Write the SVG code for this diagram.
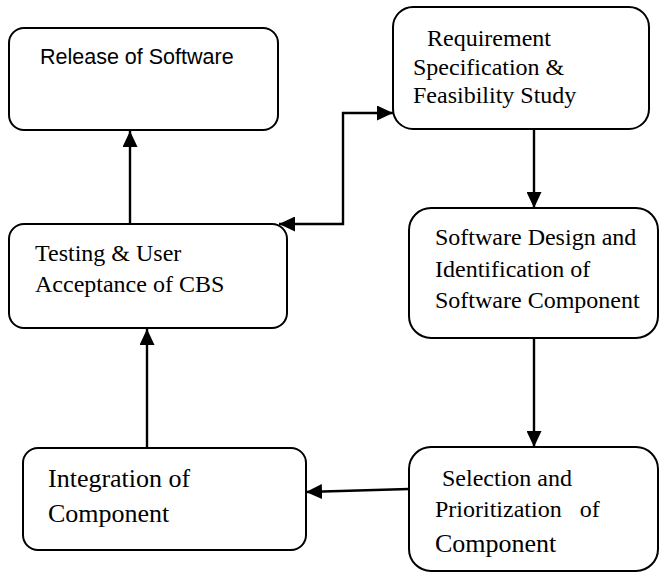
<svg xmlns="http://www.w3.org/2000/svg" width="661" height="573" viewBox="0 0 661 573">
<style>
.box{fill:#fff;stroke:#000;stroke-width:2}
.serif{font-family:"Liberation Serif","Times New Roman",serif;font-size:24px;fill:#000;white-space:pre}
.big{font-size:26px}
.sans{font-family:"Liberation Sans",Arial,sans-serif;font-size:21.5px;fill:#000}
.edge{fill:none;stroke:#000;stroke-width:2.4}
</style>
<defs>
<marker id="ah" markerUnits="userSpaceOnUse" markerWidth="17" markerHeight="15" refX="16" refY="7.5" orient="auto" viewBox="0 0 17 15">
<path d="M0,0 L16,7.5 L0,15 z" fill="#000"/>
</marker>
<marker id="ahs" markerUnits="userSpaceOnUse" markerWidth="17" markerHeight="15" refX="1" refY="7.5" orient="auto" viewBox="0 0 17 15">
<path d="M17,0 L1,7.5 L17,15 z" fill="#000"/>
</marker>
</defs>
<rect width="661" height="573" fill="#fff"/>
<g id="connectors">
<line class="edge" x1="130" y1="224" x2="130" y2="131" marker-end="url(#ah)"/>
<polyline class="edge" points="279,224 343,224 343,113 393,113" marker-start="url(#ahs)" marker-end="url(#ah)"/>
<line class="edge" x1="534" y1="129" x2="534" y2="208" marker-end="url(#ah)"/>
<line class="edge" x1="534" y1="338" x2="534" y2="447" marker-end="url(#ah)"/>
<line class="edge" x1="409" y1="489" x2="306" y2="492" marker-end="url(#ah)"/>
<line class="edge" x1="147" y1="448" x2="147" y2="329" marker-end="url(#ah)"/>
</g>
<g id="release">
<rect class="box" x="9" y="28" width="269" height="102" rx="15"/>
<text class="sans" x="40" y="64">Release of Software</text>
</g>
<g id="requirement">
<rect class="box" x="393" y="7" width="256" height="122" rx="20"/>
<text class="serif" x="421" y="46"> Requirement</text>
<text class="serif" x="413" y="75">Specification &amp;</text>
<text class="serif" x="413" y="103">Feasibility Study</text>
</g>
<g id="testing">
<rect class="box" x="9" y="224" width="278" height="104" rx="15"/>
<text class="serif" x="35" y="261">Testing &amp; User</text>
<text class="serif" x="35" y="292">Acceptance of CBS</text>
</g>
<g id="design">
<rect class="box" x="409" y="208" width="249" height="130" rx="22"/>
<text class="serif" x="435" y="245">Software Design and</text>
<text class="serif" x="435" y="277">Identification of</text>
<text class="serif" x="435" y="308">Software Component</text>
</g>
<g id="selection">
<rect class="box" x="409" y="447" width="249" height="124" rx="22"/>
<text class="serif" x="436" y="486"> Selection and</text>
<text class="serif" x="435" y="517">Prioritization   of</text>
<text class="serif big" x="435" y="552">Component</text>
</g>
<g id="integration">
<rect class="box" x="23" y="448" width="283" height="102" rx="15"/>
<text class="serif big" x="48" y="487">Integration of</text>
<text class="serif big" x="48" y="522">Component</text>
</g>
</svg>
